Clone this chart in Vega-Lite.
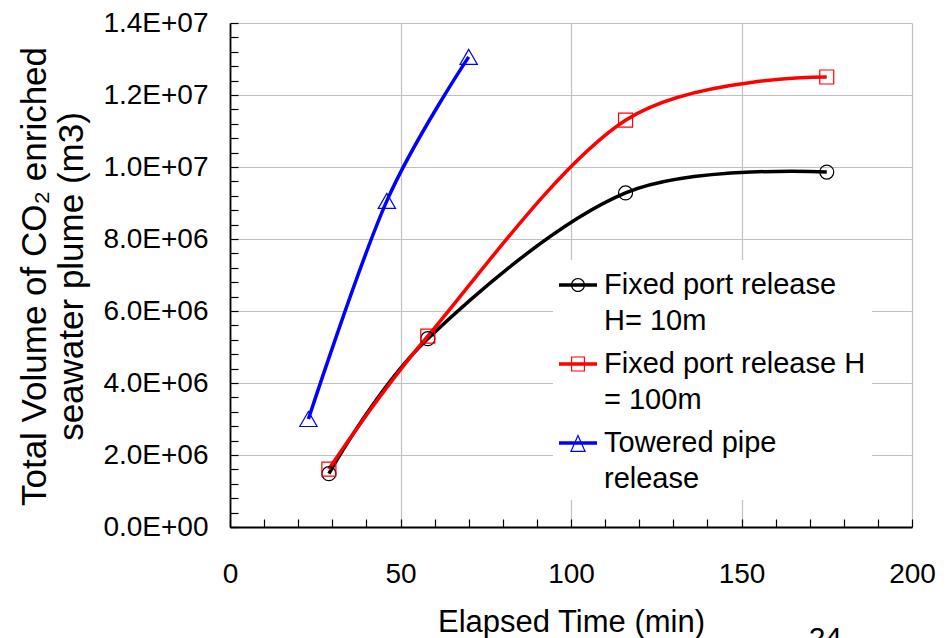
{
  "$schema": "https://vega.github.io/schema/vega-lite/v6.json",
  "width": 682,
  "height": 504,
  "autosize": {"type": "none"},
  "padding": {"left": 230, "top": 23, "right": 40, "bottom": 111},
  "background": "white",
  "title": {"text": "24", "orient": "bottom", "anchor": "end", "frame": "group", "fontSize": 30, "fontWeight": "normal", "font": "Liberation Sans", "color": "black", "baseline": "top", "offset": -13, "dx": -70},
  "config": {
    "view": {"stroke": null},
    "font": "Liberation Sans",
    "axis": {"labelFont": "Liberation Sans", "titleFont": "Liberation Sans", "labelColor": "black", "titleColor": "black", "titleFontWeight": "normal"},
    "legend": {"labelFont": "Liberation Sans"}
  },
  "data": {
    "values": [
      {"series": "Fixed port release H= 10m", "time": 29, "volume": 1480000},
      {"series": "Fixed port release H= 10m", "time": 58, "volume": 5230000},
      {"series": "Fixed port release H= 10m", "time": 116, "volume": 9280000},
      {"series": "Fixed port release H= 10m", "time": 175, "volume": 9860000},
      {"series": "Fixed port release H = 100m", "time": 29, "volume": 1610000},
      {"series": "Fixed port release H = 100m", "time": 58, "volume": 5300000},
      {"series": "Fixed port release H = 100m", "time": 116, "volume": 11300000},
      {"series": "Fixed port release H = 100m", "time": 175, "volume": 12500000},
      {"series": "Towered pipe release", "time": 23, "volume": 3000000},
      {"series": "Towered pipe release", "time": 46, "volume": 9060000},
      {"series": "Towered pipe release", "time": 70, "volume": 13060000}
    ]
  },
  "encoding": {
    "x": {
      "field": "time", "type": "quantitative",
      "scale": {"domain": [0, 200], "nice": false, "zero": false},
      "axis": {
        "title": "Elapsed Time (min)",
        "values": [0,10,20,30,40,50,60,70,80,90,100,110,120,130,140,150,160,170,180,190,200],
        "labelExpr": "datum.value % 50 === 0 ? datum.label : ''",
        "labelOverlap": false, "labelFlush": false, "labelBound": false,
        "labelFontSize": 28, "labelBaseline": "top", "labelPadding": 41,
        "tickSize": -8, "tickColor": "black", "tickWidth": 1.2,
        "domainColor": "black", "domainWidth": 1.8,
        "grid": true, "gridColor": "#c0c0c0", "gridWidth": 1.2,
        "gridOpacity": {"condition": {"test": "datum.value % 50 !== 0", "value": 0}, "value": 1},
        "titleFontSize": 31, "titleBaseline": "alphabetic", "titleY": 104
      }
    },
    "y": {
      "field": "volume", "type": "quantitative",
      "scale": {"domain": [0, 14000000], "nice": false},
      "axis": {
        "title": ["Total Volume of CO₂ enriched", "seawater plume (m3)"],
        "values": [0,400000,800000,1200000,1600000,2000000,2400000,2800000,3200000,3600000,4000000,4400000,4800000,5200000,5600000,6000000,6400000,6800000,7200000,7600000,8000000,8400000,8800000,9200000,9600000,10000000,10400000,10800000,11200000,11600000,12000000,12400000,12800000,13200000,13600000,14000000],
        "labelExpr": "datum.value % 2000000 !== 0 ? '' : (datum.value === 0 ? '0.0E+00' : format(datum.value / pow(10, floor(log(datum.value) / LN10 + 1e-9)), '.1f') + 'E+' + (floor(log(datum.value) / LN10 + 1e-9) < 10 ? '0' : '') + floor(log(datum.value) / LN10 + 1e-9))",
        "labelOverlap": false, "labelFlush": false, "labelBound": false,
        "labelFontSize": 28, "labelPadding": 30,
        "tickSize": -8, "tickColor": "black", "tickWidth": 1.2,
        "domainColor": "black", "domainWidth": 1.8,
        "grid": true, "gridColor": "#c0c0c0", "gridWidth": 1.2,
        "gridOpacity": {"condition": {"test": "datum.value % 2000000 !== 0", "value": 0}, "value": 1},
        "titleFontSize": 35, "titleLineHeight": 37, "titleBaseline": "alphabetic", "titleAngle": -90, "titleAlign": "center",
        "titleX": -185, "titleY": 253
      }
    },
    "color": {
      "field": "series", "type": "nominal",
      "scale": {
        "domain": ["Fixed port release H= 10m", "Fixed port release H = 100m", "Towered pipe release"],
        "range": ["#000000", "#ff0000", "#0000ff"]
      },
      "legend": {
        "title": null,
        "orient": "none", "legendX": 323, "legendY": 237,
        "fillColor": "white", "padding": 6,
        "symbolSize": 1444, "labelFontSize": 29, "labelLimit": 0, "labelOffset": 7,
        "rowPadding": 9,
        "labelExpr": "datum.value === 'Fixed port release H= 10m' ? ['Fixed port release', 'H= 10m'] : (datum.value === 'Fixed port release H = 100m' ? ['Fixed port release H', '= 100m'] : ['Towered pipe', 'release'])",
        "encode": {
          "symbols": {
            "update": {
              "shape": {"signal": "datum.value === 'Fixed port release H= 10m' ? 'M-1,-0.09H1V0.09H-1ZM0.37,0A0.37,0.37,0,1,1,-0.37,0A0.37,0.37,0,1,1,0.37,0ZM0.305,0A0.305,0.305,0,1,0,-0.305,0A0.305,0.305,0,1,0,0.305,0Z' : (datum.value === 'Fixed port release H = 100m' ? 'M-1,-0.09H1V0.09H-1ZM-0.37,-0.4H0.37V0.4H-0.37ZM-0.307,-0.337V0.337H0.307V-0.337Z' : 'M-1,-0.09H1V0.09H-1ZM0,-0.47L0.42,0.47L-0.42,0.47ZM0,-0.315L-0.323,0.407L0.323,0.407Z')"},
              "size": {"value": 1444},
              "fill": {"signal": "scale('color', datum.value)"},
              "fillOpacity": {"value": 1},
              "stroke": {"value": "transparent"},
              "strokeWidth": {"value": 0},
              "opacity": {"value": 1}
            }
          },
          "labels": {"update": {"lineHeight": {"value": 36}}}
        }
      }
    }
  },
  "layer": [
    {
      "mark": {"type": "line", "interpolate": "cardinal", "strokeWidth": 3.5}
    },
    {
      "transform": [{"filter": "datum.series === 'Fixed port release H= 10m'"}],
      "mark": {"type": "point", "shape": "circle", "size": 196, "filled": false, "strokeWidth": 1.2, "opacity": 1}
    },
    {
      "transform": [{"filter": "datum.series === 'Fixed port release H = 100m'"}],
      "mark": {"type": "point", "shape": "square", "size": 196, "filled": false, "strokeWidth": 1.2, "opacity": 1}
    },
    {
      "transform": [{"filter": "datum.series === 'Towered pipe release'"}],
      "mark": {"type": "point", "shape": "triangle-up", "size": 300, "filled": false, "strokeWidth": 1.2, "opacity": 1}
    }
  ]
}
